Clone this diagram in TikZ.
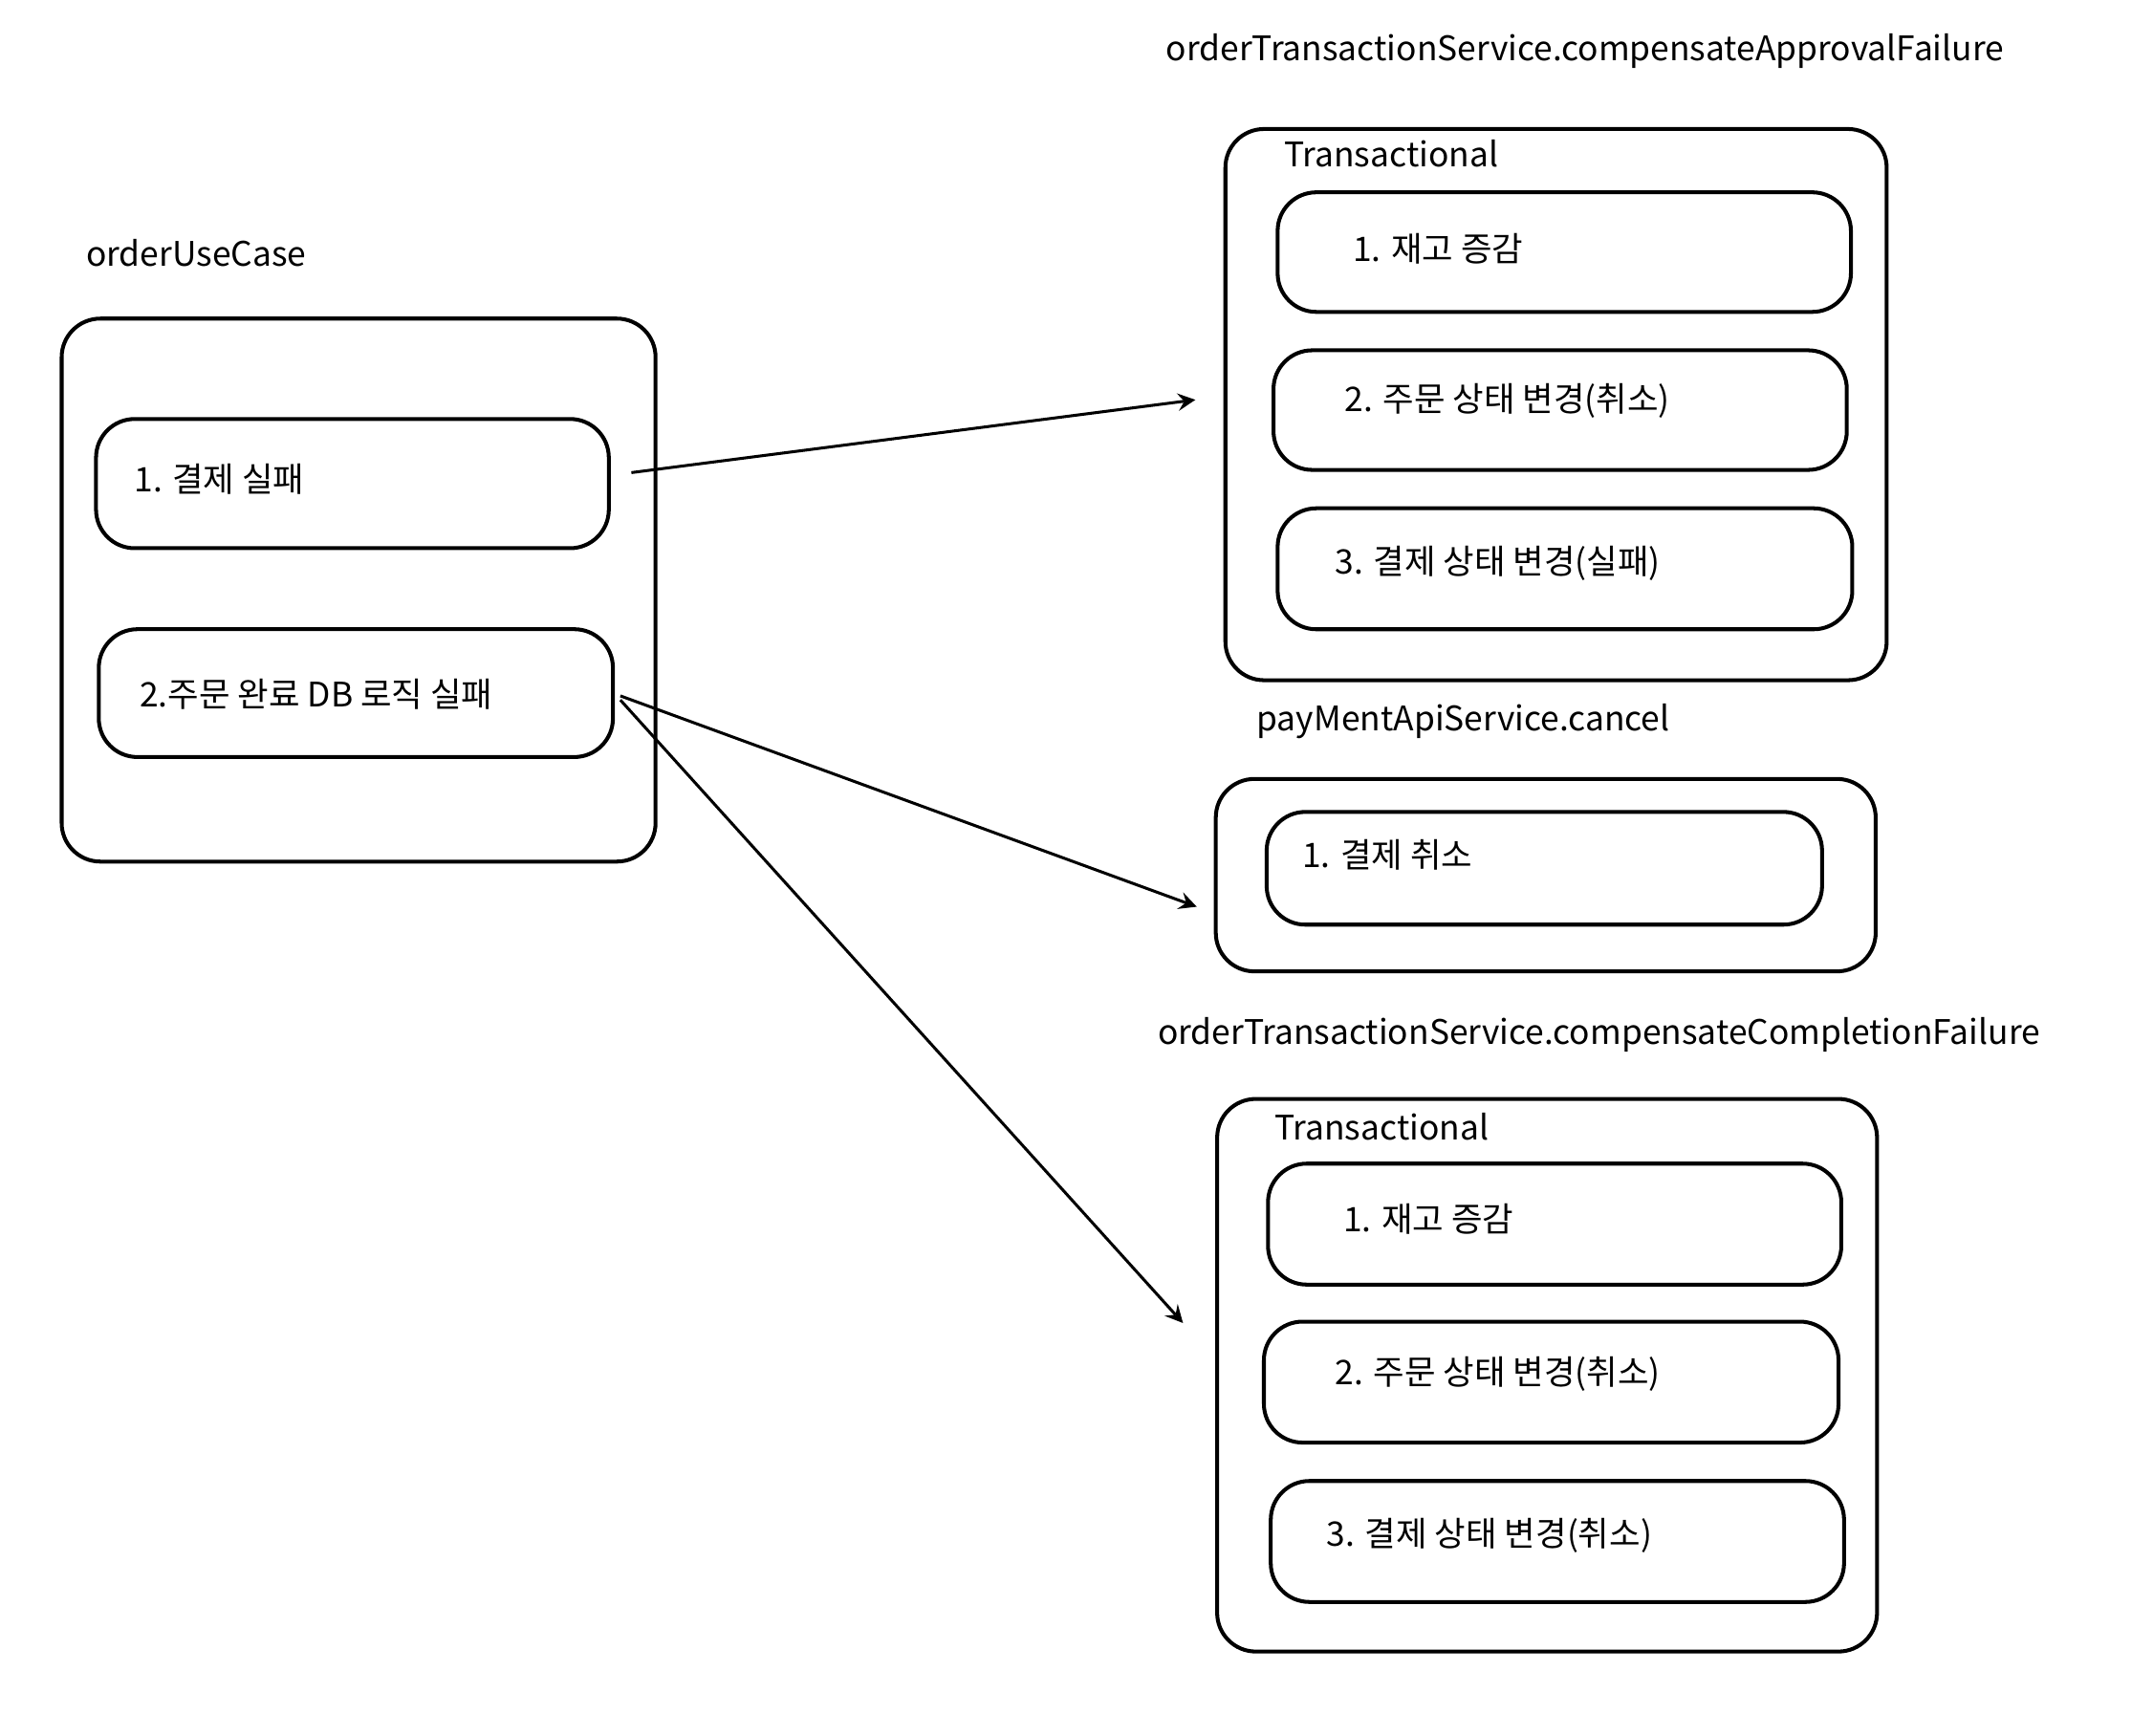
\documentclass[tikz,border=0pt]{standalone}
\usepackage{fontspec}
\setmainfont{Noto Sans CJK KR}
\begin{document}
\begin{tikzpicture}[
    x=0.01cm, y=-0.01cm,
    box/.style={rectangle, draw, thick, rounded corners=8pt, inner sep=0pt},
    label/.style={anchor=west, inner sep=0pt, font=\fontsize{7}{9}\selectfont},
    arrow/.style={->, >=stealth, semithick}
]
    \useasboundingbox (0,0) rectangle (1567,1263.6);

    % orderUseCase
    \node[label] (uclabel) at (62,184) {orderUseCase};
    \node[box, minimum width=4.32cm, minimum height=3.95cm] (usecase) at (261,429.5) {};
    \node[box, minimum width=3.73cm, minimum height=0.94cm] (payfail) at (256.5,352) {};
    \node[label] at (97,349) {1. 결제 실패};
    \node[box, minimum width=3.74cm, minimum height=0.93cm] (dbfail) at (259,504.5) {};
    \node[label] at (101,505) {2.주문 완료 DB 로직 실패};

    % compensateApprovalFailure
    \node[label] (aplabel) at (848,37) {orderTransactionService.compensateApprovalFailure};
    \node[box, minimum width=4.81cm, minimum height=4.01cm] (approval) at (1132.5,294.5) {};
    \node[label] at (934,112) {Transactional};
    \node[box, minimum width=4.17cm, minimum height=0.87cm] (ap1) at (1138.5,183.5) {};
    \node[label] at (984,181) {1. 재고 증감};
    \node[box, minimum width=4.17cm, minimum height=0.87cm] (ap2) at (1135.5,298.5) {};
    \node[label] at (978,292) {2. 주문 상태 변경(취소)};
    \node[box, minimum width=4.18cm, minimum height=0.88cm] (ap3) at (1139,414) {};
    \node[label] at (971,410) {3. 결제 상태 변경(실패)};

    % payMentApiService.cancel
    \node[label] (cnlabel) at (914,525) {payMentApiService.cancel};
    \node[box, minimum width=4.80cm, minimum height=1.40cm] (cancel) at (1125,637) {};
    \node[box, minimum width=4.04cm, minimum height=0.82cm] (cn1) at (1124,632) {};
    \node[label] at (947,622) {1. 결제 취소};

    % compensateCompletionFailure
    \node[label] (cplabel) at (842,753) {orderTransactionService.compensateCompletionFailure};
    \node[box, minimum width=4.80cm, minimum height=4.02cm] (completion) at (1126,1001) {};
    \node[label] at (927,820) {Transactional};
    \node[box, minimum width=4.17cm, minimum height=0.88cm] (cp1) at (1131.5,891) {};
    \node[label] at (977,887) {1. 재고 증감};
    \node[box, minimum width=4.18cm, minimum height=0.88cm] (cp2) at (1129,1006) {};
    \node[label] at (971,1000) {2. 주문 상태 변경(취소)};
    \node[box, minimum width=4.17cm, minimum height=0.88cm] (cp3) at (1133.5,1122) {};
    \node[label] at (965,1118) {3. 결제 상태 변경(취소)};

    % arrows
    \coordinate (apin) at (870,291);
    \coordinate (cnin) at (871,660);
    \coordinate (cpin) at (861,963);
    \draw[arrow] (payfail.east) ++(15,-8) -- (apin);
    \draw[arrow] (dbfail.east) ++(4,2) -- (cnin);
    \draw[arrow] (dbfail.east) ++(4,5) -- (cpin);
\end{tikzpicture}
\end{document}
